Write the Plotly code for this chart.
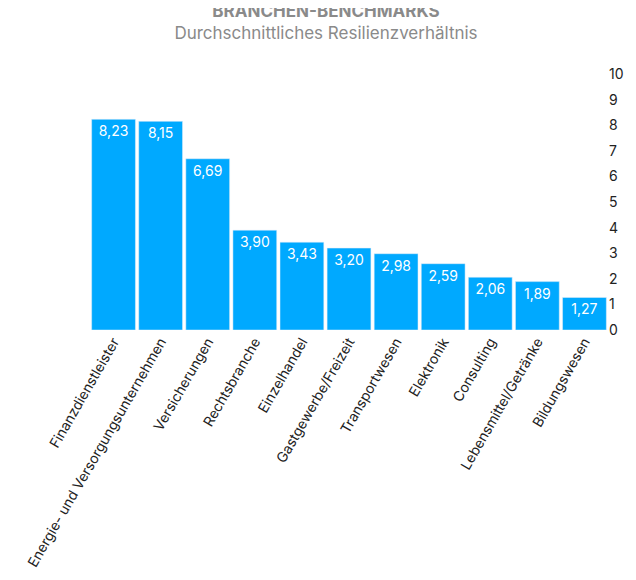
import plotly.graph_objects as go

categories = ["Finanzdienstleister", "Energie- und Versorgungsunternehmen", "Versicherungen",
              "Rechtsbranche", "Einzelhandel", "Gastgewerbe/Freizeit", "Transportwesen",
              "Elektronik", "Consulting", "Lebensmittel/Getränke", "Bildungswesen"]
values = [8.23, 8.15, 6.69, 3.90, 3.43, 3.20, 2.98, 2.59, 2.06, 1.89, 1.27]
labels = [f"{v:.2f}".replace(".", ",") for v in values]

fig = go.Figure(go.Bar(
    x=categories, y=values, text=labels, textposition="inside", insidetextanchor="end",
    textfont=dict(color="white", size=14), marker=dict(color="#00A9FF"), cliponaxis=False,
))
fig.update_layout(
    width=636, height=580,
    font=dict(family="Inter, Roboto, sans-serif", size=14, color="#222"),
    title=dict(text="<b>BRANCHEN-BENCHMARKS</b><br><span style='font-size:17px;color:#8a8a8a'>Durchschnittliches Resilienzverhältnis</span>",
               x=0.5, xanchor="center", y=0.985, yanchor="top", font=dict(size=17, color="#8a8a8a")),
    margin=dict(l=82, r=36, t=66, b=258),
    plot_bgcolor="white", paper_bgcolor="white",
    bargap=0.07, showlegend=False,
    yaxis=dict(side="right", range=[0, 10], dtick=1, showgrid=False, zeroline=False,
               ticks="", tickfont=dict(size=14), automargin=False),
    xaxis=dict(tickangle=-60, showline=False, ticks="", tickfont=dict(size=14), automargin=False),
)
fig.write_html("out.html")
